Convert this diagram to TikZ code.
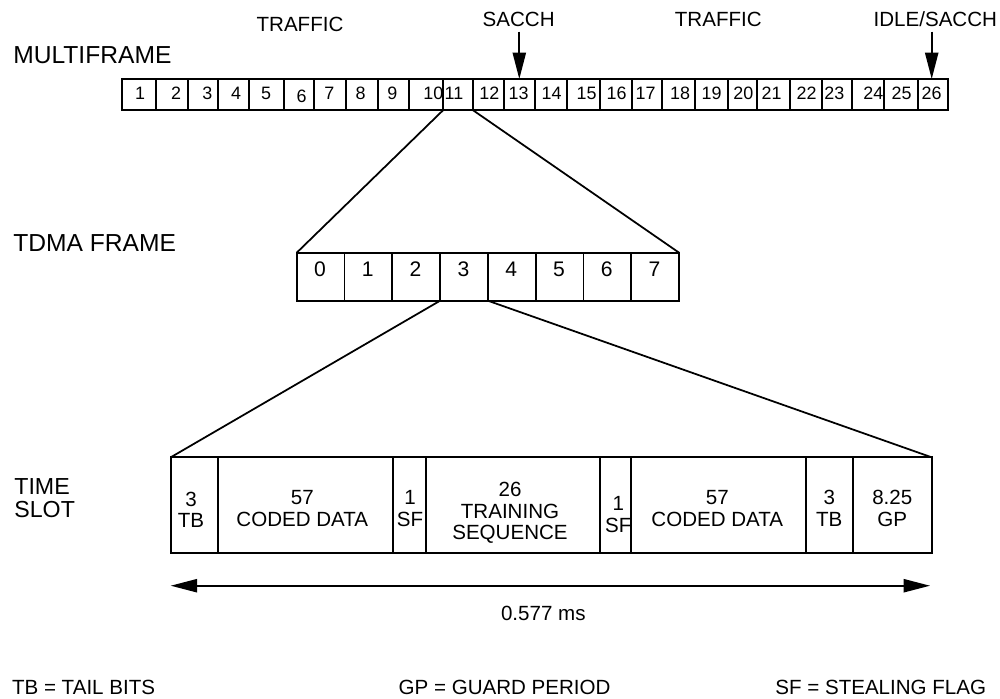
\documentclass[tikz,border=0pt]{standalone}
\usepackage{fontspec}
\setmainfont{Liberation Sans}
\usetikzlibrary{arrows.meta}

\begin{document}
\begin{tikzpicture}[x=0.02cm,y=-0.02cm,
  frame/.style={draw,line width=1pt,outer sep=0pt,inner sep=0pt},
  big/.style={font=\fontsize{14}{16}\selectfont,inner sep=0pt},
  small/.style={font=\fontsize{11.7}{12.2}\selectfont,inner sep=0pt,align=center},
  mid/.style={font=\fontsize{12}{14}\selectfont,inner sep=0pt},
  tiny/.style={font=\fontsize{10.2}{12}\selectfont,inner sep=0pt},
  fan/.style={line width=1pt},
  tip/.style={line width=1pt,-{Triangle[length=15pt,width=7.5pt]}},
  dim/.style={line width=1pt,{Triangle[length=15pt,width=7.5pt]}-{Triangle[length=15pt,width=7.5pt]}}]
\useasboundingbox (0,0) rectangle (1000,698);

% row labels
\node[big,anchor=west] (mflbl) at (13,54.7) {MULTIFRAME};
\node[big,anchor=west] (tdlbl) at (13,243.5) {TDMA FRAME};
\node[big,anchor=west,font=\fontsize{13.2}{15}\selectfont] (tslbl1) at (14,486.5) {TIME};
\node[big,anchor=west,font=\fontsize{13.2}{15}\selectfont] (tslbl2) at (14,509.5) {SLOT};

% multiframe
\node[small] (trf1) at (300,24.7) {TRAFFIC};
\node[small] (sacch) at (518.7,19) {SACCH};
\node[small] (trf2) at (718.3,19) {TRAFFIC};
\node[small,anchor=west] (idle) at (873.3,19) {IDLE/SACCH};
\foreach \a/\b/\tx/\ty/\n in {122/156/140/93/1, 156/187.7/176/93/2, 187.7/218.3/207.3/93/3,
  218.3/249.3/236/93/4, 249.3/283.7/266/93/5, 283.7/314.3/301.7/96.5/6, 314.3/345.7/329.3/93/7,
  345.7/377.7/360.7/93/8, 377.7/409.3/392.3/93/9, 409.3/443.3/433.3/93/10, 443.3/472.7/454/93/11,
  472.7/504.3/489.3/93/12, 504.3/535/518.7/93/13, 535/566.7/551.7/93/14, 566.7/600/586.7/93/15,
  600/631.7/616.7/93/16, 631.7/661.7/645.7/93/17, 661.7/695/680/93/18, 695/728.3/711.7/93/19,
  728.3/756.7/743.3/93/20, 756.7/790/771.7/93/21, 790/821.7/806.7/93/22, 821.7/851.7/834.3/93/23,
  851.7/884.3/873.3/93/24, 884.3/917.7/901.7/93/25, 917.7/948.3/931.7/93/26}{
  \node[frame,minimum width={(\b-\a)*0.02cm},minimum height=0.62cm] (mf\n) at ({(\a+\b)/2},94.5) {};
  \node[tiny] (mfn\n) at (\tx,\ty) {\n};
}
\coordinate (sacchtop) at (519.3,31.7);
\coordinate (idletop) at (931.7,31.7);
\draw[tip] (sacchtop) -- (sacchtop |- mf13.north);
\draw[tip] (idletop) -- (idletop |- mf26.north);

% tdma frame
\foreach \i in {0,...,7}{
  \node[frame,minimum width=0.956cm,minimum height=0.96cm] (td\i) at ({320.6+47.8*\i},276.7) {};
  \node[mid] (tdn\i) at ({320+47.8*\i},269.3) {\i};
}
\draw[fan] (mf11.south west) -- (td0.north west);
\draw[fan] (mf11.south east) -- (td7.north east);

% time slot
\foreach \a/\b/\tx/\ty/\txt [count=\k] in {170.7/218.3/191/510/{3\\TB},
  218.3/392.7/302.3/508.5/{57\\CODED DATA}, 392.7/426/410/508.7/{1\\SF},
  426/600/510/513/{26\\TRAINING\\SEQUENCE}, 600/631/618.3/514.5/{1\\SF},
  631/805.7/717.3/508.5/{57\\CODED DATA}, 805.7/852.7/829.3/508.5/{3\\TB},
  852.7/931.7/892.3/508.5/{8.25\\GP}}{
  \node[frame,minimum width={(\b-\a)*0.02cm},minimum height=1.92cm] (ts\k) at ({(\a+\b)/2},505.3) {};
  \node[small] (tst\k) at (\tx,\ty) {\txt};
}
\draw[fan] (td3.south west) -- (ts1.north west);
\draw[fan] (td3.south east) -- (ts8.north east);

\coordinate (dimL) at (170.7,585.7);
\coordinate (dimR) at (930,585.7);
\draw[dim] (dimL) -- (dimR);
\node[small] (dur) at (543.3,613.3) {0.577 ms};

% legend
\node[small,anchor=west] (lgtb) at (11.7,687) {TB = TAIL BITS};
\node[small,anchor=west] (lggp) at (398.3,687) {GP = GUARD PERIOD};
\node[small,anchor=west] (lgsf) at (775,687) {SF = STEALING FLAG};
\end{tikzpicture}
\end{document}
